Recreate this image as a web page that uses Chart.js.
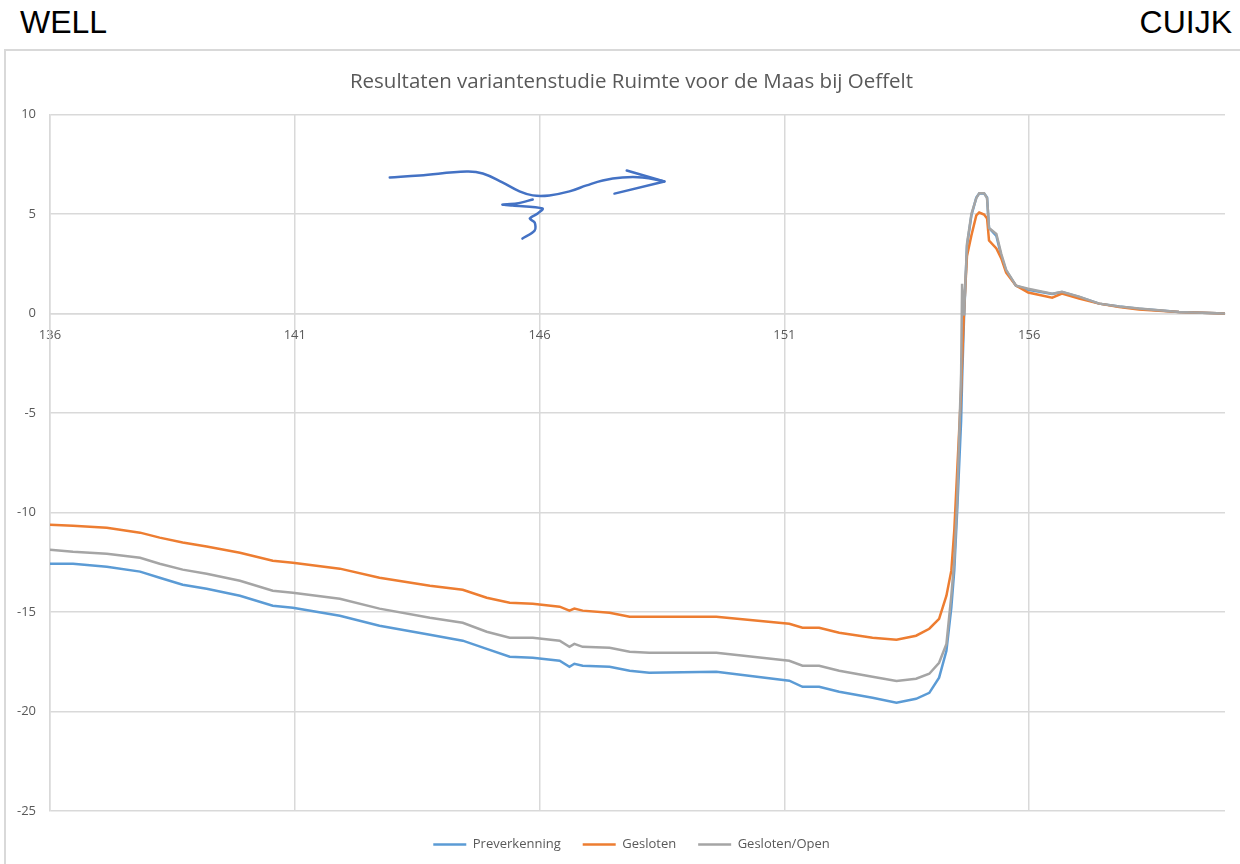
<!DOCTYPE html>
<html lang="nl">
<head>
<meta charset="utf-8">
<title>Resultaten variantenstudie Ruimte voor de Maas bij Oeffelt</title>
<script src="https://cdn.jsdelivr.net/npm/chart.js@4.4.1/dist/chart.umd.min.js"></script>
<style>
  html, body { margin: 0; padding: 0; background: #fff; overflow: hidden; }
  body { width: 1240px; height: 864px; position: relative; font-family: "Liberation Sans", Arial, sans-serif; }
  .plaats { position: absolute; top: 4px; font-size: 32px; color: #000; z-index: 2; }
  #well { left: 20px; }
  #cuijk { right: 8px; }
  .kader { position: absolute; left: 4px; top: 49px; width: 1250px; height: 830px; border: 2px solid #d9d9d9; box-sizing: border-box; }
  .grafiek { position: absolute; left: 0; top: 50px; width: 1251px; height: 811px; }
</style>
</head>
<body>
<div class="plaats" id="well">WELL</div>
<div class="plaats" id="cuijk">CUIJK</div>
<div class="kader"></div>
<div class="grafiek"><canvas id="maasChart"></canvas></div>
<script>
// rivierkilometers (x) en verschil per variant (y)
const kmPunten = [
  136.00, 136.47, 137.16, 137.84, 138.24, 138.71, 139.20, 139.88, 140.55, 140.96,
  141.92, 142.73, 143.76, 144.43, 144.92, 145.39, 145.86, 146.41, 146.61, 146.71,
  146.88, 147.43, 147.84, 148.24, 149.61, 151.10, 151.37, 151.71, 152.12, 152.80,
  153.29, 153.69, 153.96, 154.16, 154.31, 154.41, 154.47, 154.53, 154.61, 154.63,
  154.67, 154.73, 154.82, 154.92, 154.98, 155.08, 155.14, 155.18, 155.33, 155.43,
  155.53, 155.73, 155.98, 156.47, 156.67, 157.02, 157.43, 157.84, 158.24, 159.06,
  160.00
];

const preverkenning = [
  -12.57, -12.57, -12.72, -12.97, -13.28, -13.63, -13.83, -14.18, -14.68, -14.78,
  -15.19, -15.69, -16.14, -16.44, -16.85, -17.25, -17.30, -17.45, -17.75, -17.60,
  -17.70, -17.75, -17.95, -18.05, -18.00, -18.45, -18.76, -18.76, -19.01, -19.31,
  -19.56, -19.36, -19.06, -18.30, -16.95, -14.78, -12.92, -9.90, -5.38, -3.37,
  -0.20, 3.40, 4.93, 5.83, 6.03, 6.03, 5.83, 4.30, 3.90, 2.90,
  2.15, 1.40, 1.20, 0.98, 1.08, 0.83, 0.50, 0.35, 0.24, 0.08,
  0.00
];

const gesloten = [
  -10.61, -10.66, -10.76, -11.01, -11.26, -11.51, -11.71, -12.02, -12.42, -12.52,
  -12.82, -13.28, -13.68, -13.88, -14.28, -14.53, -14.58, -14.73, -14.93, -14.83,
  -14.93, -15.04, -15.24, -15.24, -15.24, -15.59, -15.79, -15.79, -16.04, -16.29,
  -16.39, -16.19, -15.84, -15.34, -14.18, -12.92, -10.91, -7.90, -3.87, -2.40,
  0.15, 2.90, 3.92, 4.93, 5.08, 4.98, 4.78, 3.67, 3.27, 2.77,
  2.06, 1.41, 1.06, 0.80, 1.00, 0.75, 0.50, 0.33, 0.20, 0.08,
  0.00
];

const geslotenOpen = [
  -11.87, -11.97, -12.07, -12.27, -12.57, -12.87, -13.08, -13.43, -13.93, -14.03,
  -14.33, -14.83, -15.29, -15.54, -15.99, -16.29, -16.29, -16.44, -16.75, -16.60,
  -16.75, -16.80, -17.00, -17.05, -17.05, -17.45, -17.70, -17.70, -17.95, -18.25,
  -18.46, -18.35, -18.10, -17.55, -16.60, -14.18, -12.42, -9.40, -3.00, 1.50,
  -0.10, 3.50, 5.00, 5.80, 6.05, 6.05, 5.80, 4.30, 4.00, 3.00,
  2.20, 1.40, 1.25, 1.00, 1.10, 0.85, 0.50, 0.35, 0.25, 0.08,
  0.00
];

const xTicks = [136, 141, 146, 151, 156];

// handgetekende stroompijl (km, waarde)
const pijlLijnX = [142.94, 143.55, 144.51, 144.84, 145.24, 145.59, 145.86, 146.20, 146.61, 146.96, 147.29, 147.69, 148.10, 148.55];
const pijlLijnY = [6.84, 6.94, 7.14, 7.04, 6.59, 6.14, 5.94, 5.94, 6.14, 6.44, 6.69, 6.84, 6.84, 6.64];
const pijlPuntX = [147.78, 148.55, 147.53];
const pijlPuntY = [7.19, 6.64, 6.03];
const krulX = [145.86, 145.53, 145.24, 145.45, 146.06, 145.96, 145.80, 145.90, 145.90, 145.65];
const krulY = [5.73, 5.53, 5.48, 5.43, 5.28, 5.03, 4.78, 4.58, 4.17, 3.77];

const TEKST_GRIJS = "#595959";
const RASTER = "#d9d9d9";
const PIJL_KLEUR = "#4472C4";
const FONT = "'Open Sans', sans-serif";

function punten(xs, ys) {
  return xs.map((x, i) => ({ x, y: ys[i] }));
}

function serie(label, data, kleur, volgorde) {
  return {
    label,
    data: punten(kmPunten, data),
    xAxisID: "x",
    yAxisID: "y",
    borderColor: kleur,
    backgroundColor: kleur,
    borderWidth: 2.5,
    pointRadius: 0,
    tension: 0,
    order: volgorde
  };
}

function pijlDeel(xs, ys, spanning) {
  return {
    label: "pijl",
    data: punten(xs, ys),
    xAxisID: "x",
    yAxisID: "y",
    borderColor: PIJL_KLEUR,
    borderWidth: 2.5,
    pointRadius: 0,
    tension: spanning,
    borderCapStyle: "round",
    borderJoinStyle: "round",
    order: 0
  };
}

// lege as die alleen ruimte inneemt
function ruimte(as, positie, maat) {
  return {
    type: "linear",
    axis: as,
    position: positie,
    grid: { display: false },
    border: { display: false },
    ticks: { display: false },
    afterFit: scale => {
      if (as === "x") scale.height = maat;
      else scale.width = maat;
    }
  };
}

const ctx = document.getElementById("maasChart").getContext("2d");

new Chart(ctx, {
  type: "line",
  data: {
    datasets: [
      serie("Preverkenning", preverkenning, "#5B9BD5", 3),
      serie("Gesloten", gesloten, "#ED7D31", 2),
      serie("Gesloten/Open", geslotenOpen, "#A5A5A5", 1),
      pijlDeel(pijlLijnX, pijlLijnY, 0.4),
      pijlDeel(pijlPuntX, pijlPuntY, 0),
      pijlDeel(krulX, krulY, 0.3)
    ]
  },
  options: {
    responsive: true,
    maintainAspectRatio: false,
    animation: false,
    layout: { padding: { left: 12, right: 0, top: 0, bottom: 0 } },
    plugins: {
      title: {
        display: true,
        text: "Resultaten variantenstudie Ruimte voor de Maas bij Oeffelt",
        color: TEKST_GRIJS,
        font: { family: FONT, size: 20.5, weight: "normal" },
        padding: { top: 19.5, bottom: 20.5 }
      },
      legend: {
        position: "bottom",
        labels: {
          color: TEKST_GRIJS,
          font: { family: FONT, size: 13 },
          usePointStyle: true,
          pointStyle: "line",
          pointStyleWidth: 33,
          boxHeight: 13,
          padding: 22,
          filter: item => item.text !== "pijl",
          sort: (a, b) => a.datasetIndex - b.datasetIndex
        }
      },
      tooltip: { enabled: false }
    },
    scales: {
      x: {
        type: "linear",
        position: { y: 0 },
        min: 136,
        max: 160,
        afterBuildTicks: scale => {
          scale.ticks = xTicks.map(value => ({ value }));
        },
        grid: { color: RASTER, lineWidth: 1.5, drawTicks: false },
        border: { color: RASTER, width: 1.5 },
        ticks: {
          color: TEKST_GRIJS,
          font: { family: FONT, size: 13 },
          padding: 14,
          maxRotation: 0
        }
      },
      y: {
        min: -25,
        max: 10,
        afterFit: scale => { scale.width = 38; },
        grid: { color: RASTER, lineWidth: 1.5, drawTicks: false },
        border: { color: RASTER, width: 1.5 },
        ticks: {
          stepSize: 5,
          color: TEKST_GRIJS,
          font: { family: FONT, size: 13 },
          padding: 14
        }
      },
      onder: ruimte("x", "bottom", 5),
      rechts: ruimte("y", "right", 26)
    }
  }
});
</script>
</body>
</html>
